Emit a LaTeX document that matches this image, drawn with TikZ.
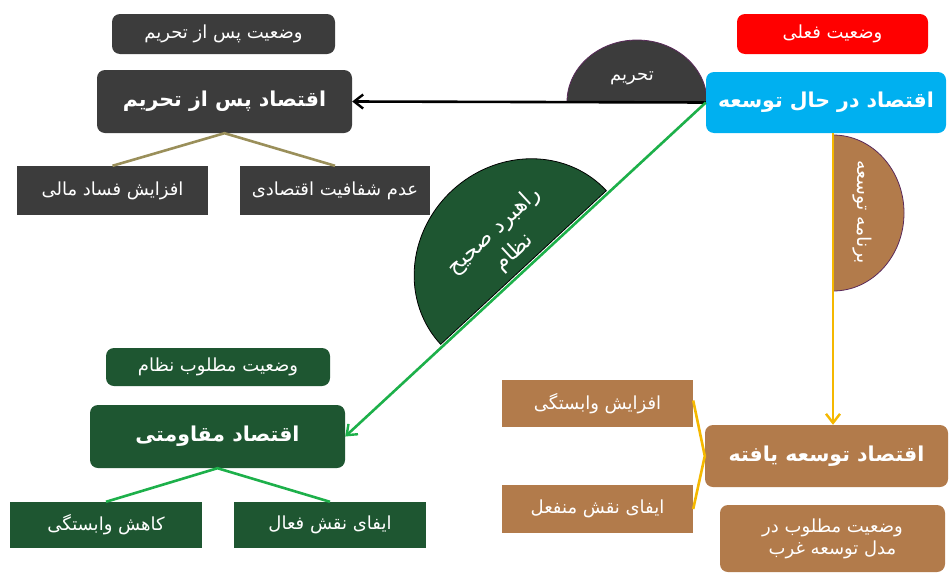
\documentclass[tikz,border=0pt]{standalone}
\usepackage{fontspec}
\newfontfamily\fafont[Script=Arabic]{DejaVu Sans}
\TeXXeTstate=1
\usetikzlibrary{arrows.meta}
\newcommand{\fatext}[1]{\beginR #1\endR}
\definecolor{marblegray}{HTML}{3C3C3C}
\definecolor{marblegreen}{HTML}{1E5631}
\definecolor{wood}{HTML}{B27B4B}
\definecolor{skyblue}{HTML}{00B0F0}
\definecolor{linegreen}{HTML}{1DB04A}
\definecolor{lineyellow}{HTML}{F5B800}
\definecolor{lineolive}{HTML}{9A8F5A}
\definecolor{rimpurple}{HTML}{5A2A5A}
\begin{document}
\begin{tikzpicture}[x=1pt,y=-1pt,
  base/.style={text=white, font=\fafont, inner sep=0pt, align=center, draw=none},
  rbox/.style={base, rounded corners=8pt},
  title/.style={font=\fafont\bfseries\fontsize{20.5}{24}\selectfont},
  sub/.style={font=\fafont\fontsize{18}{22}\selectfont},
  graybox/.style={fill=marblegray},
  greenbox/.style={fill=marblegreen},
  woodbox/.style={fill=wood},
  conn/.style={line width=2.6pt},
  tip/.style={-{Straight Barb[length=9pt,width=14pt,line width=2.4pt]}}
]
\useasboundingbox[fill=white] (0,0) rectangle (950,573);

% semicircles
\filldraw[fill=marblegray, draw=rimpurple, line width=0.8pt] (567,102) arc[start angle=180, end angle=360, x radius=70, y radius=62] -- cycle;
\filldraw[fill=marblegreen, draw=black, line width=0.8pt]
  plot[domain=0:180, samples=72, smooth]
  ({523.5 + 113*cos(\x)*(-0.733) + 105*sin(\x)*(-0.680)}, {267.5 + 113*cos(\x)*0.680 + 105*sin(\x)*(-0.733)}) -- cycle;
\filldraw[fill=wood, draw=rimpurple, line width=0.8pt] (833,135) arc[start angle=-90, end angle=90, x radius=71, y radius=78] -- cycle;
\coordinate (bsem) at (833,213);
\node[base, sub] (tahrimlbl) at (632,78) {\fatext{تحریم}};
\node[base, font=\fafont\fontsize{22}{29}\selectfont, rotate=42.8] (rahbord) at (504,242) {\fatext{راهبرد صحیح}\\\fatext{نظام}};
\node[base, font=\fafont\fontsize{19}{22}\selectfont, rotate=-90] (barname) at (862,212) {\fatext{برنامه توسعه}};

% top right
\node[rbox, fill=red, sub, minimum width=191pt, minimum height=40pt] (current) at (832.5,34) {\fatext{وضعیت فعلی}};
\node[rbox, fill=skyblue, title, minimum width=240pt, minimum height=61pt] (blue) at (826,102.5) {\fatext{اقتصاد در حال توسعه}};

% top left
\node[rbox, graybox, sub, minimum width=223pt, minimum height=40pt] (afterlbl) at (223.5,34) {\fatext{وضعیت پس از تحریم}};
\node[rbox, graybox, title, minimum width=255pt, minimum height=63pt] (gmain) at (224.5,101.5) {\fatext{اقتصاد پس از تحریم}};
\node[base, graybox, sub, minimum width=191pt, minimum height=49pt] (fasad) at (112.5,190.5) {\fatext{افزایش فساد مالی}};
\node[base, graybox, sub, minimum width=190pt, minimum height=49pt] (shafaf) at (335,190.5) {\fatext{عدم شفافیت اقتصادی}};

% bottom left
\node[rbox, greenbox, sub, minimum width=224pt, minimum height=38pt] (desired) at (218,367) {\fatext{وضعیت مطلوب نظام}};
\node[rbox, greenbox, title, minimum width=255pt, minimum height=63pt] (muq) at (217.5,436.5) {\fatext{اقتصاد مقاومتی}};
\node[base, greenbox, sub, minimum width=192pt, minimum height=46pt] (kahesh) at (106,525) {\fatext{کاهش وابستگی}};
\node[base, greenbox, sub, minimum width=192pt, minimum height=46pt] (feal) at (330,525) {\fatext{ایفای نقش فعال}};

% bottom right
\node[rbox, woodbox, title, minimum width=243pt, minimum height=62pt] (tos) at (826.5,456) {\fatext{اقتصاد توسعه یافته}};
\node[rbox, woodbox, sub, minimum width=225pt, minimum height=67pt] (west) at (832.5,538.5) {\fatext{وضعیت مطلوب در}\\\fatext{مدل توسعه غرب}};
\node[base, woodbox, sub, minimum width=191pt, minimum height=47pt] (afz) at (597.5,403.5) {\fatext{افزایش وابستگی}};
\node[base, woodbox, sub, minimum width=191pt, minimum height=48pt] (monf) at (597.5,509) {\fatext{ایفای نقش منفعل}};

% connectors
\draw[conn, black, tip] (blue.west) -- (gmain.east);
\draw[conn, linegreen, tip] (blue.west) -- (muq.east);
\draw[conn, lineyellow, tip] (blue.south -| bsem) -- (tos.north -| bsem);
\draw[conn, lineolive] (fasad.north) -- (gmain.south) -- (shafaf.north);
\draw[conn, linegreen] (kahesh.north) -- (muq.south) -- (feal.north);
\draw[conn, lineyellow] ([yshift=3pt]afz.east) -- (tos.west) -- (monf.east);
\end{tikzpicture}
\end{document}
